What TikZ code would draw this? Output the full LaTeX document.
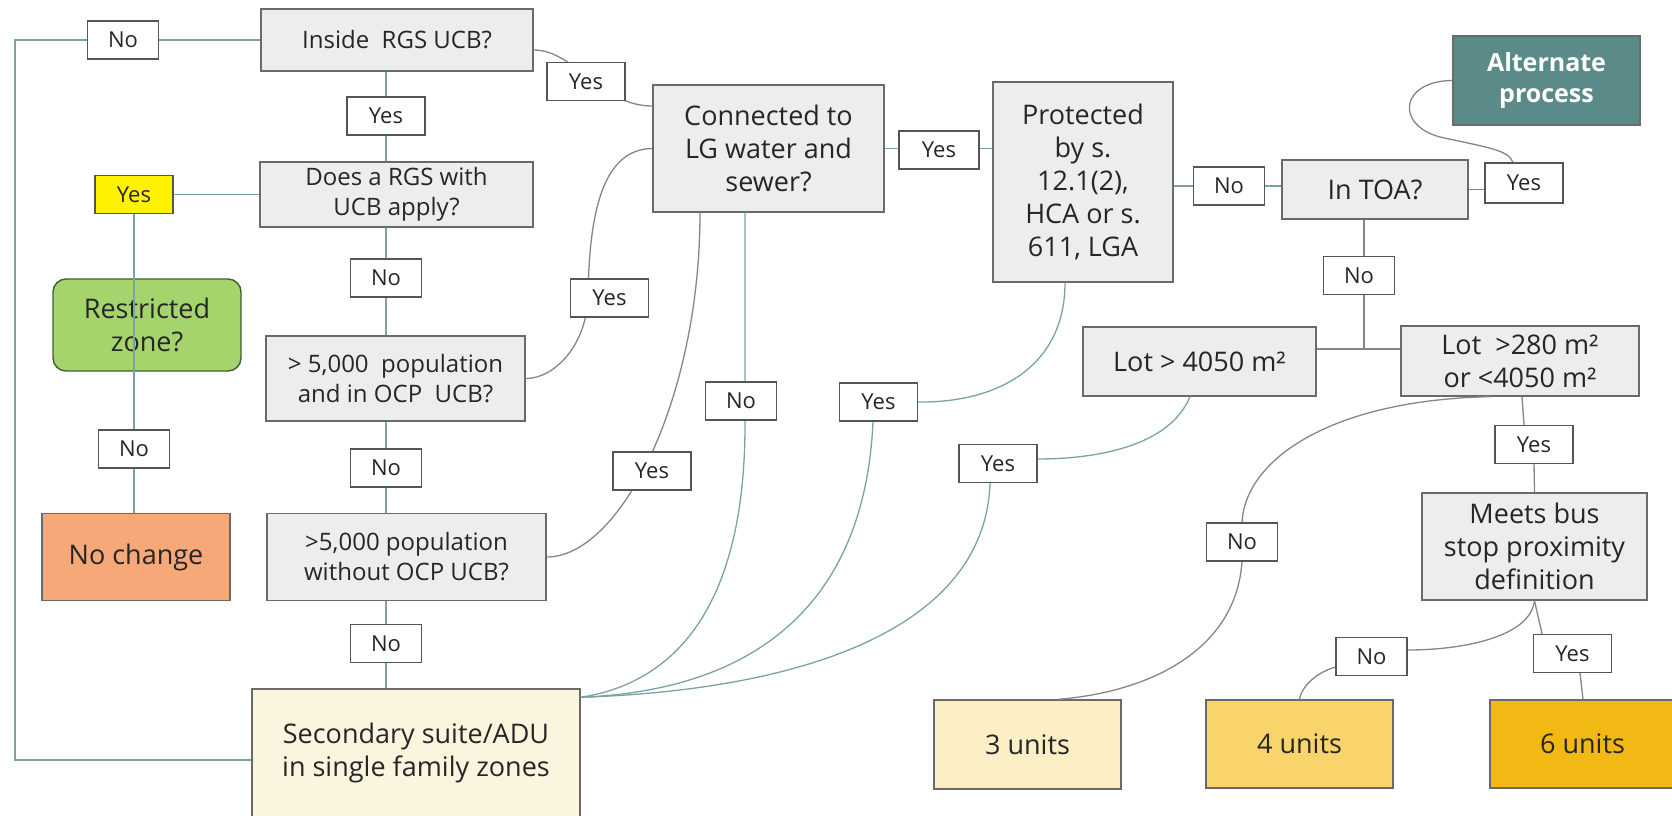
\documentclass[tikz,border=0pt]{standalone}
\usepackage{fontspec}
\setmainfont{Open Sans}
\definecolor{boxfill}{HTML}{EDEDED}
\definecolor{boxline}{HTML}{6A6A6A}
\definecolor{lblline}{HTML}{555555}
\definecolor{lnTeal}{HTML}{7AA3A1}
\definecolor{lnGray}{HTML}{868686}
\definecolor{altFill}{HTML}{5B8B88}
\definecolor{grnFill}{HTML}{A6D46C}
\definecolor{grnLine}{HTML}{3E5F2E}
\definecolor{orgFill}{HTML}{F6A878}
\definecolor{creamFill}{HTML}{FBF4DF}
\definecolor{uthree}{HTML}{FCEEC5}
\definecolor{ufour}{HTML}{F8D46A}
\definecolor{usix}{HTML}{F2B914}
\definecolor{txt}{HTML}{262626}
\pgfdeclarelayer{bg}
\pgfdeclarelayer{mid}
\pgfsetlayers{bg,mid,main}
\begin{document}
\begin{tikzpicture}[x=1pt,y=-1pt,
  boxq/.style={draw=boxline, line width=1.4pt, fill=boxfill, inner sep=0pt, align=center, text=txt, font=\fontsize{24}{30}\selectfont},
  bigt/.style={font=\fontsize{27}{33}\selectfont},
  lbl/.style={draw=lblline, line width=1.2pt, fill=white, inner sep=0pt, minimum height=38pt, text=txt, font=\fontsize{22}{26}\selectfont},
  yl/.style={lbl, minimum width=78pt},
  nl/.style={lbl, minimum width=71pt},
  tl/.style={draw=lnTeal, line width=1.3pt},
  gl/.style={draw=lnGray, line width=1.3pt},
]
\useasboundingbox (0,0) rectangle (1672,815);
\begin{pgfonlayer}{bg}
\fill[white] (0,0) rectangle (1672,815);
\node[boxq, minimum width=272pt, minimum height=62pt] (inside) at (397,40) {Inside\ \ RGS UCB?};
\node[boxq, minimum width=273pt, minimum height=65pt] (does) at (396.5,194.5) {Does a RGS with\\UCB apply?};
\node[boxq, minimum width=259pt, minimum height=85pt] (ocp) at (395.5,378.5) {> 5,000\ \ population\\and in OCP\ \ UCB?};
\node[boxq, minimum width=279pt, minimum height=87pt] (without) at (406.5,557) {>5,000 population\\without OCP UCB?};
\node[boxq, bigt, fill=creamFill, minimum width=328pt, minimum height=128pt] (secondary) at (416,753) {Secondary suite/ADU\\in single family zones};
\node[boxq, bigt, fill=grnFill, draw=grnLine, rounded corners=13pt, minimum width=188pt, minimum height=92pt] (restricted) at (147,325) {Restricted\\zone?};
\node[boxq, bigt, fill=orgFill, minimum width=188pt, minimum height=87pt] (nochange) at (136,557) {No change};
\node[boxq, bigt, minimum width=231pt, minimum height=127pt] (connected) at (768.5,148.5) {Connected to\\LG water and\\sewer?};
\node[boxq, bigt, minimum width=180pt, minimum height=200pt] (protected) at (1083,182) {Protected\\by s.\\12.1(2),\\HCA or s.\\611, LGA};
\node[boxq, bigt, minimum width=186pt, minimum height=59pt] (toa) at (1375,189.5) {In TOA?};
\node[boxq, font=\bfseries\fontsize{25}{31}\selectfont, text=white, fill=altFill, minimum width=187pt, minimum height=89pt] (alt) at (1546.5,80.5) {Alternate\\process};
\node[boxq, bigt, minimum width=233pt, minimum height=69pt] (lot4050) at (1199.5,361.5) {Lot > 4050 m²};
\node[boxq, bigt, minimum width=238pt, minimum height=70pt] (lot280) at (1520,361) {Lot\ \ >280 m²\\or <4050 m²};
\node[boxq, bigt, minimum width=225pt, minimum height=107pt] (meets) at (1534.5,546.5) {Meets bus\\stop proximity\\definition};
\node[boxq, bigt, fill=uthree, minimum width=187pt, minimum height=89pt] (three) at (1027.5,744.5) {3 units};
\node[boxq, bigt, fill=ufour, minimum width=187pt, minimum height=88pt] (four) at (1299.5,744) {4 units};
\node[boxq, bigt, fill=usix, minimum width=185pt, minimum height=88pt] (six) at (1582.5,744) {6 units};
\end{pgfonlayer}
% labels
\node[nl] (L1) at (123,40) {No};
\node[yl] (L2) at (586,81.5) {Yes};
\node[yl] (L3) at (386,116) {Yes};
\node[yl, fill=yellow] (L4) at (134,194.5) {Yes};
\node[nl] (L5) at (386,278) {No};
\node[yl] (L6) at (609.5,298) {Yes};
\node[nl] (L7) at (134,449) {No};
\node[nl] (L8) at (386,468) {No};
\node[yl] (L9) at (652,471) {Yes};
\node[nl] (L10) at (386,643.5) {No};
\node[yl, minimum width=80pt] (L11) at (939,150) {Yes};
\node[nl] (L12) at (741,401) {No};
\node[yl] (L13) at (878.5,402) {Yes};
\node[nl] (L14) at (1229,186) {No};
\node[yl, minimum height=40pt] (L15) at (1524,183) {Yes};
\node[nl] (L16) at (1359,275.5) {No};
\node[yl] (L17) at (998,463.5) {Yes};
\node[nl] (L18) at (1242,542) {No};
\node[yl] (L19) at (1534,444.5) {Yes};
\node[nl] (L20) at (1371.5,656.5) {No};
\node[yl] (L21) at (1572.5,653.5) {Yes};
\begin{pgfonlayer}{mid}
% C1
\coordinate (cTL) at (15,40);
\coordinate (cBL) at (15,760);
\draw[tl] (inside.west) -- (cTL) -- (cBL) -- (cBL -| secondary.west);
% C2
\coordinate (c2a) at ([yshift=-10pt]inside.east);
\coordinate (c2b) at ([yshift=42.5pt]connected.west);
\draw[gl] (c2a) .. controls (575,50) and (600,106) .. (c2b);
% C3
\draw[tl] (inside.south -| L3) -- (does.north -| L3);
% C4
\draw[tl] (does.west) -- (L4.east);
\draw[tl] (L4.south) -- (nochange.north -| L4);
% C5
\draw[tl] (does.south -| L5) -- (ocp.north -| L5);
% C6
\draw[tl] (ocp.south -| L8) -- (without.north -| L8);
% C7
\draw[tl] (without.south -| L10) -- (secondary.north -| L10);
% C8
\draw[gl] (ocp.east) .. controls (555,378.5) and (586,345) .. (588,298) .. controls (589,220) and (600,149) .. (connected.west);
% C9
\coordinate (c9) at ([xshift=-68.5pt]connected.south);
\draw[gl] (without.east) .. controls (620,557) and (700,400) .. (c9);
% C10
\coordinate (c10a) at ([xshift=-23.5pt]connected.south);
\coordinate (secNE) at ([yshift=-9pt]secondary.north east);
\draw[tl] (c10a) -- (745,420) .. controls (746,600) and (680,682) .. (secNE);
% C11
\draw[tl] (connected.east) -- (connected.east -| protected.west);
% C12
\coordinate (c12) at ([xshift=-18pt]protected.south);
\draw[tl] (c12) .. controls (1065,365) and (1000,403) .. (L13.east);
\draw[tl] ([xshift=-5.5pt]L13.south) .. controls (865,600) and (760,690) .. (secNE);
% C13
\coordinate (c13) at ([xshift=-9.5pt]lot4050.south);
\draw[tl] (c13) .. controls (1170,445) and (1100,459) .. ([yshift=4.5pt]L17.east);
\draw[tl] ([xshift=-8pt]L17.south) .. controls (985,630) and (800,690) .. (secNE);
% C14
\coordinate (c14) at ([yshift=-4pt]protected.east);
\draw[tl] (c14) -- (c14 -| toa.west);
% C15
\draw[gl] (toa.east) -- (toa.east -| L15.west);
\draw[gl] (alt.west) .. controls (1400,81) and (1395,125) .. (1440,137) .. controls (1490,148) and (1508,150) .. ([xshift=-11pt]L15.north);
% C16
\coordinate (j) at (1364,349);
\draw[gl] (toa.south -| j) -- (j);
\draw[gl] (lot4050.east |- j) -- (lot280.west |- j);
% C17
\coordinate (c17a) at ([xshift=-30pt]lot280.south);
\draw[gl] (c17a) .. controls (1330,400) and (1245,460) .. (L18.north);
\draw[gl] (L18.south) .. controls (1236,650) and (1150,692) .. ([xshift=30.5pt]three.north);
% C18
\draw[gl] ([xshift=2pt]lot280.south) -- ([xshift=-10pt]L19.north);
\draw[gl] (L19.south) -- (meets.north);
% C19
\draw[gl] (meets.south) .. controls (1530,638) and (1460,650) .. ([yshift=6.5pt]L20.east);
\draw[gl] ([yshift=-10.5pt]L20.west) .. controls (1318,672) and (1302,685) .. (four.north);
% C20
\draw[gl] (meets.south) -- ([xshift=-30.5pt]L21.north);
\draw[gl] ([xshift=7.5pt]L21.south) -- ([xshift=0.5pt]six.north);
\end{pgfonlayer}
\end{tikzpicture}
\end{document}
